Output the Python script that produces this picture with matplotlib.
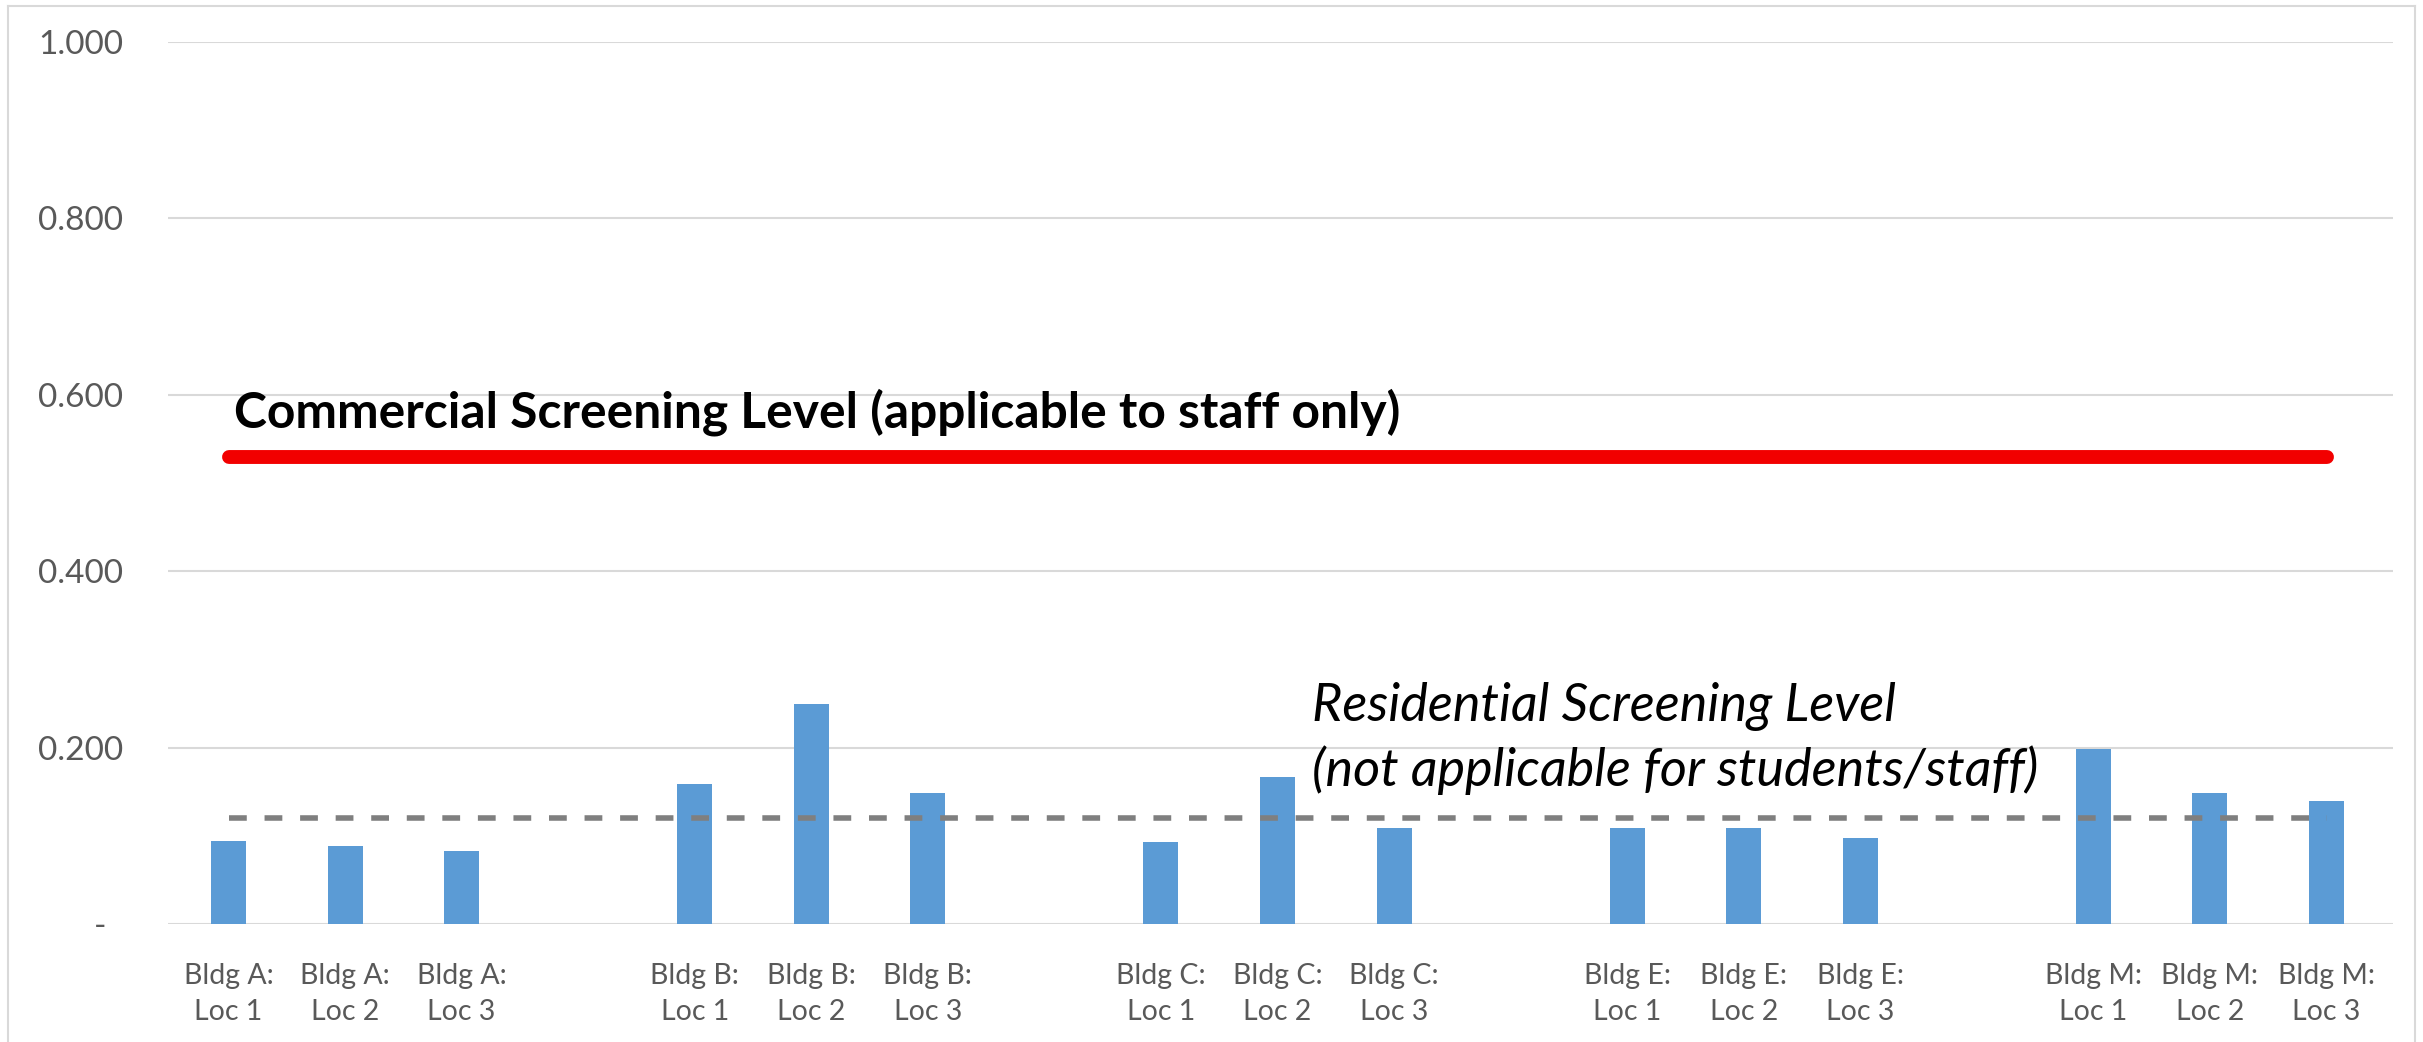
import numpy as np
import matplotlib.pyplot as plt
from matplotlib.lines import Line2D

# podatki
buildings = ['A', 'B', 'C', 'E', 'M']
locations = ['Loc 1', 'Loc 2', 'Loc 3']
values = [0.094, 0.088, 0.083,
          0.159, 0.249, 0.149,
          0.093, 0.167, 0.109,
          0.109, 0.109, 0.097,
          0.199, 0.149, 0.139]
commercial_level = 0.53
residential_level = 0.12
yticks = [0, 0.2, 0.4, 0.6, 0.8, 1.0]
ytick_labels = ['-  ', '0.200', '0.400', '0.600', '0.800', '1.000']

labels = ['Bldg %s:\n%s' % (b, l) for b in buildings for l in locations]
pos = np.array([g * 4 + i for g in range(len(buildings)) for i in range(len(locations))])

plt.rcParams['font.family'] = ['Lato', 'DejaVu Sans']

fig = plt.figure(figsize=(24.23, 10.42), dpi=100)
ax = fig.add_axes([0.0693, 0.1132, 0.9183, 0.8465])

ax.bar(pos, values, width=0.30, color='#5B9BD5', zorder=3)

# nivoji
ax.plot([pos[0], pos[-1]], [commercial_level] * 2, color='#F20000', lw=10,
        solid_capstyle='round', zorder=4)
ax.plot([pos[0], pos[-1]], [residential_level] * 2, color='#7F7F7F', lw=4,
        linestyle=(0, (3.2, 3.2)), zorder=4)

ax.text(0.05, 0.58, 'Commercial Screening Level (applicable to staff only)',
        fontsize=35.8, fontweight='bold', color='black', va='center', ha='left', zorder=5)
ax.text(9.3, 0.21, 'Residential Screening Level\n(not applicable for students/staff)',
        fontsize=37.5, fontstyle='italic', color='black', va='center', ha='left',
        linespacing=1.35, zorder=5)

ax.set_xlim(-0.52, 18.57)
ax.set_ylim(0, 1.0)
ax.set_xticks(pos)
ax.set_xticklabels(labels, fontsize=20.5, color='#595959', linespacing=1.5)
ax.set_yticks(yticks)
ax.set_yticklabels(ytick_labels, fontsize=24, color='#595959')
ax.tick_params(axis='x', length=0, pad=28)
ax.tick_params(axis='y', length=0, pad=32)
ax.grid(axis='y', color='#D9D9D9', lw=1.5, zorder=0)
for s in ax.spines.values():
    s.set_visible(False)

# okvir slike
bc = '#D9D9D9'
x0, x1, y1 = 8 / 2423, 2415 / 2423, 1 - 6 / 1042
fig.add_artist(Line2D([x0, x0], [0, y1], color=bc, lw=1.5))
fig.add_artist(Line2D([x0, x1], [y1, y1], color=bc, lw=1.5))
fig.add_artist(Line2D([x1, x1], [0, y1], color=bc, lw=1.5))

fig.savefig('out.png', dpi=100)
